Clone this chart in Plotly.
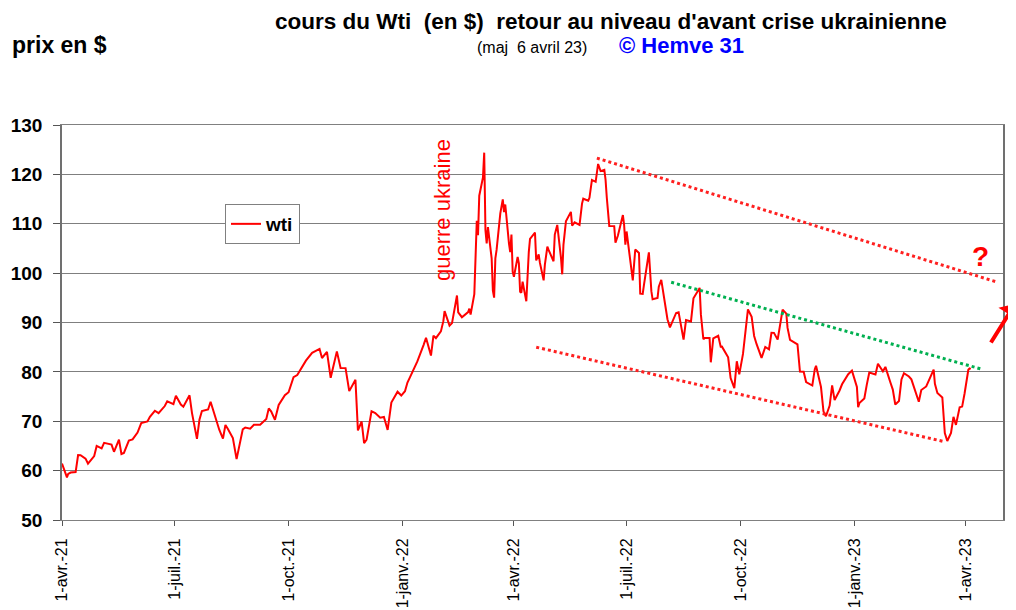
import plotly.graph_objects as go

# ---- data (WTI daily close) ----
dates = [
"2021-04-01","2021-04-05","2021-04-06","2021-04-08","2021-04-12","2021-04-14","2021-04-16","2021-04-20","2021-04-22","2021-04-27","2021-04-29",
"2021-05-03","2021-05-05","2021-05-11","2021-05-13","2021-05-17","2021-05-19","2021-05-21","2021-05-25","2021-05-28",
"2021-06-01","2021-06-04","2021-06-09","2021-06-11","2021-06-15","2021-06-18","2021-06-23","2021-06-25","2021-06-30",
"2021-07-02","2021-07-06","2021-07-08","2021-07-13","2021-07-15","2021-07-19","2021-07-21","2021-07-23","2021-07-28","2021-07-30",
"2021-08-03","2021-08-06","2021-08-09","2021-08-11","2021-08-13","2021-08-17","2021-08-20","2021-08-23","2021-08-25","2021-08-27","2021-08-31",
"2021-09-03","2021-09-08","2021-09-13","2021-09-15","2021-09-17","2021-09-20","2021-09-23","2021-09-28",
"2021-10-01","2021-10-05","2021-10-08","2021-10-11","2021-10-15","2021-10-20","2021-10-26","2021-10-28",
"2021-11-01","2021-11-04","2021-11-09","2021-11-12","2021-11-16","2021-11-19","2021-11-24","2021-11-26","2021-11-29",
"2021-12-01","2021-12-03","2021-12-07","2021-12-10","2021-12-14","2021-12-17","2021-12-20","2021-12-23","2021-12-28","2021-12-31",
"2022-01-03","2022-01-05","2022-01-07","2022-01-11","2022-01-13","2022-01-18","2022-01-20","2022-01-24","2022-01-26","2022-01-28",
"2022-02-01","2022-02-03","2022-02-04","2022-02-08","2022-02-10","2022-02-14","2022-02-15","2022-02-18","2022-02-23","2022-02-24","2022-02-25","2022-02-28",
"2022-03-01","2022-03-02","2022-03-03","2022-03-04","2022-03-07","2022-03-08","2022-03-09","2022-03-10","2022-03-11","2022-03-14","2022-03-15","2022-03-16",
"2022-03-17","2022-03-18","2022-03-21","2022-03-23","2022-03-24","2022-03-25","2022-03-28","2022-03-29","2022-03-30","2022-03-31",
"2022-04-01","2022-04-04","2022-04-05","2022-04-06","2022-04-07","2022-04-08","2022-04-11","2022-04-12","2022-04-13","2022-04-14",
"2022-04-18","2022-04-19","2022-04-21","2022-04-22","2022-04-25","2022-04-26","2022-04-28","2022-04-29",
"2022-05-03","2022-05-04","2022-05-06","2022-05-09","2022-05-10","2022-05-11","2022-05-13","2022-05-17","2022-05-18","2022-05-20",
"2022-05-24","2022-05-26","2022-05-27","2022-05-31",
"2022-06-01","2022-06-03","2022-06-06","2022-06-08","2022-06-10","2022-06-13","2022-06-14","2022-06-15","2022-06-17","2022-06-21",
"2022-06-22","2022-06-24","2022-06-28","2022-06-29","2022-06-30",
"2022-07-01","2022-07-05","2022-07-06","2022-07-08","2022-07-11","2022-07-12","2022-07-14","2022-07-15","2022-07-18","2022-07-19",
"2022-07-21","2022-07-22","2022-07-26","2022-07-27","2022-07-29",
"2022-08-01","2022-08-03","2022-08-05","2022-08-10","2022-08-12","2022-08-16","2022-08-18","2022-08-22","2022-08-24","2022-08-29","2022-08-30",
"2022-09-01","2022-09-02","2022-09-06","2022-09-07","2022-09-09","2022-09-13","2022-09-15","2022-09-16","2022-09-21","2022-09-23","2022-09-26","2022-09-28","2022-09-30",
"2022-10-03","2022-10-05","2022-10-07","2022-10-10","2022-10-12","2022-10-14","2022-10-18","2022-10-21","2022-10-24","2022-10-26","2022-10-28","2022-10-31",
"2022-11-02","2022-11-04","2022-11-07","2022-11-08","2022-11-10","2022-11-14","2022-11-16","2022-11-18","2022-11-21","2022-11-23","2022-11-28","2022-11-30",
"2022-12-01","2022-12-05","2022-12-07","2022-12-09","2022-12-12","2022-12-14","2022-12-16","2022-12-20","2022-12-22","2022-12-27","2022-12-30",
"2023-01-03","2023-01-04","2023-01-05","2023-01-09","2023-01-11","2023-01-13","2023-01-18","2023-01-20","2023-01-24","2023-01-26","2023-01-30",
"2023-02-01","2023-02-03","2023-02-06","2023-02-08","2023-02-10","2023-02-14","2023-02-16","2023-02-22","2023-02-24","2023-02-28",
"2023-03-02","2023-03-06","2023-03-07","2023-03-09","2023-03-13","2023-03-15","2023-03-17","2023-03-20","2023-03-22","2023-03-24","2023-03-27","2023-03-29","2023-03-31",
"2023-04-03","2023-04-04","2023-04-05",
]
wti = [
61.45,58.65,59.33,59.60,59.70,63.15,63.13,62.44,61.43,62.94,65.01,
64.49,65.63,65.28,63.82,66.27,63.36,63.58,66.07,66.32,
67.72,69.62,69.96,70.91,72.12,71.64,73.08,74.05,73.47,
75.16,73.37,72.94,75.25,71.65,66.42,70.30,72.07,72.39,73.95,
70.56,68.28,66.48,69.25,68.44,66.59,62.32,65.64,68.36,68.74,68.50,
69.29,69.30,70.45,72.61,71.97,70.29,73.30,75.29,
75.88,78.93,79.35,80.52,82.28,83.87,84.65,82.81,
84.05,78.81,84.15,80.79,80.76,76.10,78.39,68.15,69.95,
65.57,66.26,72.05,71.67,70.73,70.86,68.23,73.79,75.98,75.21,
76.08,77.85,78.90,81.22,82.12,85.43,86.90,83.31,87.35,86.82,
88.20,90.27,92.31,89.36,89.88,95.46,92.07,91.07,92.10,92.81,91.59,95.72,
103.41,110.60,107.67,115.68,119.40,124.40,108.70,106.02,109.33,103.01,96.44,95.04,
102.98,104.70,112.12,114.93,112.34,113.90,105.96,104.24,107.82,100.28,
99.27,103.28,101.96,96.23,96.03,98.26,94.29,100.60,104.25,106.95,
108.21,102.56,103.79,102.07,98.54,101.70,105.36,104.69,
102.41,107.81,109.77,103.09,99.76,105.71,110.49,112.40,109.59,110.28,
109.77,114.09,115.07,114.67,
115.26,118.87,118.50,122.11,120.67,120.93,118.93,115.31,109.56,109.52,
106.19,107.62,111.76,109.78,105.76,
108.43,99.50,98.53,104.79,104.09,95.84,95.78,97.59,102.60,104.22,
96.35,94.70,94.98,97.26,98.62,
93.89,90.66,89.01,91.93,92.09,86.53,90.50,90.23,94.89,97.01,91.64,
86.61,86.87,86.88,81.94,86.79,87.31,85.10,85.11,82.94,78.74,76.71,82.15,79.49,
83.63,87.76,92.64,91.13,87.27,85.61,82.82,85.05,84.58,87.91,87.90,86.53,
90.00,92.61,91.79,88.91,86.47,85.87,85.59,80.08,80.04,77.94,77.24,80.55,
81.22,76.93,72.01,71.02,73.17,77.28,74.29,76.23,77.49,79.53,80.26,
76.93,72.84,73.67,74.63,77.41,79.86,79.48,81.64,80.13,81.01,77.90,
76.41,73.39,74.11,78.47,79.72,79.06,78.49,73.95,76.32,77.05,
78.16,80.46,77.58,75.72,74.80,67.61,66.00,67.64,70.90,69.26,72.81,72.97,75.67,
80.42,80.71,80.61,
]

tick_dates = ["2021-04-01","2021-07-01","2021-10-01","2022-01-01","2022-04-01",
              "2022-07-01","2022-10-01","2023-01-01","2023-04-01"]
tick_labels = ["1-avr.-21","1-juil.-21","1-oct.-21","1-janv.-22","1-avr.-22",
               "1-juil.-22","1-oct.-22","1-janv.-23","1-avr.-23"]

# trend lines (annotation endpoints)
upper_red_x = ["2022-06-07", "2023-04-26"]
upper_red_y = [123.3, 98.2]
green_x = ["2022-08-06", "2023-04-13"]
green_y = [98.15, 80.6]
lower_red_x = ["2022-04-19", "2023-03-14"]
lower_red_y = [85.0, 65.9]

FONT = "Liberation Sans, Arial, sans-serif"

fig = go.Figure()
fig.add_trace(go.Scatter(x=dates, y=wti, mode="lines", name="wti",
                         line=dict(color="#ff0000", width=2)))
fig.add_trace(go.Scatter(x=upper_red_x, y=upper_red_y, mode="lines", showlegend=False,
                         line=dict(color="#ff2020", width=3, dash="dot")))
fig.add_trace(go.Scatter(x=green_x, y=green_y, mode="lines", showlegend=False,
                         line=dict(color="#00b050", width=3, dash="dot")))
fig.add_trace(go.Scatter(x=lower_red_x, y=lower_red_y, mode="lines", showlegend=False,
                         line=dict(color="#ff2020", width=3, dash="dot")))

# page body has an 8px margin: work in screen pixels, offset by OFF
OFF = 8
W, H = 1016 - OFF, 610 - OFF
L, T = 62 - OFF, 125 - OFF
R = W - (1003 - OFF)
B = H - (520 - OFF)
pw, ph = W - L - R, H - T - B
def px(x): return (x - OFF - L) / pw
def py(y): return (H - B - (y - OFF)) / ph

fig.update_layout(
    width=W, height=H,
    margin=dict(l=L, r=R, t=T, b=B, autoexpand=False),
    paper_bgcolor="white", plot_bgcolor="white",
    font=dict(family=FONT, color="black"),
    showlegend=True,
    legend=dict(x=px(225), y=py(204), xanchor="left", yanchor="top",
                bgcolor="white", bordercolor="#808080", borderwidth=1,
                font=dict(size=19, family=FONT, weight="bold"),
                itemwidth=30, tracegroupgap=0),
    xaxis=dict(type="date", range=["2021-04-01", "2023-05-01"],
               tickmode="array", tickvals=tick_dates, ticktext=tick_labels,
               tickangle=-90, tickfont=dict(size=16, family=FONT),
               ticks="outside", ticklen=5, tickcolor="#555",
               ticklabelstandoff=6,
               showgrid=False, showline=True, linecolor="#808080", linewidth=1, mirror=True,
               zeroline=False),
    yaxis=dict(range=[50, 130], dtick=10, tick0=50,
               tickfont=dict(size=19, family=FONT, weight="bold"),
               ticks="outside", ticklen=7, tickcolor="#555",
               ticklabelstandoff=7,
               showgrid=True, gridcolor="#7f7f7f", gridwidth=1,
               showline=True, linecolor="#707070", linewidth=1.5, mirror=True,
               zeroline=False),
    annotations=[
        dict(text="cours du Wti  (en $)  retour au niveau d'avant crise ukrainienne",
             xref="paper", yref="paper", x=px(611), y=py(8), xanchor="center", yanchor="top",
             borderpad=0, showarrow=False,
             font=dict(size=22.5, family=FONT, weight="bold", color="black")),
        dict(text="prix en $", xref="paper", yref="paper", x=px(10), y=py(45),
             xanchor="left", yanchor="middle", showarrow=False,
             font=dict(size=23, family=FONT, weight="bold", color="black")),
        dict(text="(maj  6 avril 23)", xref="paper", yref="paper", x=px(532), y=py(47),
             xanchor="center", yanchor="middle", showarrow=False,
             font=dict(size=16, family=FONT, color="black")),
        dict(text="© Hemve 31", xref="paper", yref="paper", x=px(617), y=py(45),
             xanchor="left", yanchor="middle", showarrow=False,
             font=dict(size=22, family=FONT, weight="bold", color="#0000ff")),
        dict(text="guerre ukraine", xref="paper", yref="paper", x=px(442), y=py(210),
             xanchor="center", yanchor="middle", textangle=-90, showarrow=False,
             font=dict(size=22, family=FONT, color="#ff0000")),
        dict(text="?", xref="paper", yref="paper", x=px(980), y=py(256),
             xanchor="center", yanchor="middle", showarrow=False,
             font=dict(size=28, family=FONT, weight="bold", color="#ff0000")),
        dict(text="", xref="paper", yref="paper", x=px(1024), y=py(304),
             ax=-34, ay=40, showarrow=True, arrowhead=1, arrowsize=1, arrowwidth=4,
             arrowcolor="#ff0000"),
    ],
)

fig.write_html("out.html")
